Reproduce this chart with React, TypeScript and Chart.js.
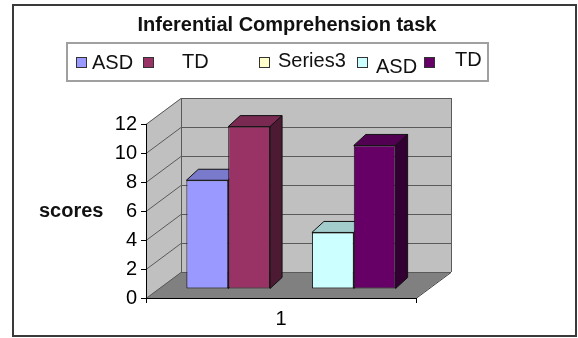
import React, { useEffect, useRef } from 'react';
import { Chart, registerables } from 'chart.js';

Chart.register(...registerables);

// ---- data ----
const categories = ['1'];
const seriesNames = ['ASD', 'TD', 'Series3', 'ASD', 'TD'];
const asdGroup1 = [7.5];
const tdGroup1 = [11.2];
const series3: (number | null)[] = [null];
const asdGroup2 = [3.9];
const tdGroup2 = [9.9];
const seriesColors = ['#9999ff', '#993366', '#ffffcc', '#ccffff', '#660066'];
const yMin = 0;
const yMax = 12;
const yStep = 2;
const chartTitle = 'Inferential Comprehension task';
const yAxisTitle = 'scores';

// ---- styling / geometry ----
const FONT = 'Arial, "Liberation Sans", sans-serif';
const WALL_DX = 35;
const WALL_DY = -26;
const BAR_TX = 10;
const BAR_TY = -9;
const BAR_DX = 12;
const BAR_DY = -11;

function shade(hex: string, f: number) {
  const n = parseInt(hex.slice(1), 16);
  const r = Math.round(((n >> 16) & 255) * f);
  const g = Math.round(((n >> 8) & 255) * f);
  const b = Math.round((n & 255) * f);
  return `rgb(${r},${g},${b})`;
}

function poly(ctx: CanvasRenderingContext2D, pts: number[][], fill: string | null, stroke: string | null) {
  ctx.beginPath();
  ctx.moveTo(pts[0][0], pts[0][1]);
  for (let i = 1; i < pts.length; i++) ctx.lineTo(pts[i][0], pts[i][1]);
  ctx.closePath();
  if (fill) {
    ctx.fillStyle = fill;
    ctx.fill();
  }
  if (stroke) {
    ctx.strokeStyle = stroke;
    ctx.stroke();
  }
}

const wallsPlugin = {
  id: 'walls3d',
  beforeDraw(chart: any) {
    const { ctx, chartArea, scales } = chart;
    const { left, right, top, bottom } = chartArea;
    const y = scales.y;
    ctx.save();
    ctx.fillStyle = '#ffffff';
    ctx.fillRect(0, 0, chart.width, chart.height);
    // outer frame
    ctx.lineWidth = 2;
    ctx.strokeStyle = '#3a3a3a';
    ctx.strokeRect(13, 5, 563, 331);

    ctx.lineWidth = 1;
    // side wall
    poly(ctx, [[left, bottom], [left, top], [left + WALL_DX, top + WALL_DY], [left + WALL_DX, bottom + WALL_DY]], '#c0c0c0', null);
    // back wall
    ctx.fillStyle = '#c0c0c0';
    ctx.fillRect(left + WALL_DX, top + WALL_DY, right - left, bottom - top);
    // floor
    poly(ctx, [[left, bottom], [right, bottom], [right + WALL_DX, bottom + WALL_DY], [left + WALL_DX, bottom + WALL_DY]], '#808080', null);

    // gridlines
    ctx.strokeStyle = '#5a5a5a';
    y.ticks.forEach((t: any) => {
      const yy = Math.round(y.getPixelForValue(t.value)) + 0.5;
      ctx.beginPath();
      ctx.moveTo(left, yy);
      ctx.lineTo(left + WALL_DX, yy + WALL_DY);
      ctx.lineTo(right + WALL_DX, yy + WALL_DY);
      ctx.stroke();
    });
    // wall edges
    ctx.beginPath();
    ctx.moveTo(left + WALL_DX + 0.5, top + WALL_DY);
    ctx.lineTo(left + WALL_DX + 0.5, bottom + WALL_DY);
    ctx.moveTo(right + WALL_DX + 0.5, top + WALL_DY);
    ctx.lineTo(right + WALL_DX + 0.5, bottom + WALL_DY);
    ctx.stroke();
    ctx.strokeStyle = '#404040';
    ctx.beginPath();
    ctx.moveTo(right, bottom + 0.5);
    ctx.lineTo(right + WALL_DX, bottom + WALL_DY + 0.5);
    ctx.stroke();
    ctx.restore();
  },
  beforeDatasetsDraw(chart: any) {
    const { ctx } = chart;
    ctx.save();
    ctx.translate(BAR_TX, BAR_TY);
    ctx.lineWidth = 1;
    chart.data.datasets.forEach((ds: any, i: number) => {
      const meta = chart.getDatasetMeta(i);
      meta.data.forEach((el: any, j: number) => {
        const v = ds.data[j];
        if (v === null || v === undefined) return;
        const { x, y, base, width } = el.getProps(['x', 'y', 'base', 'width'], true);
        const l = x - width / 2;
        const r = x + width / 2;
        const c = ds.backgroundColor as string;
        poly(ctx, [[l, y], [r, y], [r + BAR_DX, y + BAR_DY], [l + BAR_DX, y + BAR_DY]], shade(c, 0.8), '#111');
        poly(ctx, [[r, y], [r + BAR_DX, y + BAR_DY], [r + BAR_DX, base + BAR_DY], [r, base]], shade(c, 0.5), '#111');
      });
    });
  },
  afterDatasetsDraw(chart: any) {
    chart.ctx.restore();
  },
  afterDraw(chart: any) {
    const { ctx } = chart;
    ctx.save();
    // title
    ctx.fillStyle = '#111';
    ctx.font = `bold 20px ${FONT}`;
    ctx.textAlign = 'center';
    ctx.textBaseline = 'alphabetic';
    ctx.fillText(chartTitle, 287, 31);
    // y title
    ctx.textAlign = 'left';
    ctx.fillText(yAxisTitle, 39, 217);

    // legend box
    ctx.lineWidth = 2;
    ctx.strokeStyle = '#a0a0a0';
    ctx.strokeRect(67, 43, 421, 38);
    const sqX = [76, 143, 259, 357, 424];
    const txX = [92, 182, 278, 376, 455];
    const txY = [69, 68, 67, 73, 66];
    ctx.font = `20px ${FONT}`;
    ctx.lineWidth = 1;
    chart.data.datasets.forEach((ds: any, i: number) => {
      ctx.fillStyle = ds.backgroundColor;
      ctx.fillRect(sqX[i] + 0.5, 57.5, 10, 10);
      ctx.strokeStyle = '#333';
      ctx.strokeRect(sqX[i] + 0.5, 57.5, 10, 10);
      ctx.fillStyle = '#111';
      ctx.fillText(ds.label, txX[i], txY[i]);
    });
    ctx.restore();
  },
};

export default function App() {
  const ref = useRef<HTMLCanvasElement>(null);
  useEffect(() => {
    const values = [asdGroup1, tdGroup1, series3, asdGroup2, tdGroup2];
    const chart = new Chart(ref.current as HTMLCanvasElement, {
      type: 'bar',
      data: {
        labels: categories,
        datasets: values.map((d, i) => ({
          label: seriesNames[i],
          data: d as any,
          backgroundColor: seriesColors[i],
          borderColor: '#111',
          borderWidth: 1,
          borderSkipped: false,
          categoryPercentage: 0.775,
          barPercentage: 1,
        })),
      },
      options: {
        responsive: false,
        animation: false,
        events: [],
        layout: { padding: { top: 124, right: 162, bottom: 0, left: 0 } },
        plugins: {
          legend: { display: false },
          title: { display: false },
          tooltip: { enabled: false },
        },
        scales: {
          x: {
            type: 'category',
            offset: true,
            grid: { display: true, drawOnChartArea: false, drawTicks: true, tickLength: 5, color: '#000', offset: true },
            border: { display: true, color: '#000' },
            ticks: { color: '#000', font: { family: FONT, size: 20 }, padding: 4 },
            afterFit: (s: any) => {
              s.height = 40;
            },
          },
          y: {
            min: yMin,
            max: yMax,
            grid: { display: true, drawOnChartArea: false, drawTicks: true, tickLength: 5, color: '#000' },
            border: { display: true, color: '#000' },
            ticks: { stepSize: yStep, color: '#000', font: { family: FONT, size: 20 }, padding: 4 },
            afterFit: (s: any) => {
              s.width = 146;
            },
          },
        },
      },
      plugins: [wallsPlugin],
    } as any);
    return () => chart.destroy();
  }, []);
  return (
    <div style={{ position: 'absolute', left: 0, top: 0, width: 578, height: 338 }}>
      <canvas ref={ref} width={578} height={338} style={{ display: 'block' }} />
    </div>
  );
}
